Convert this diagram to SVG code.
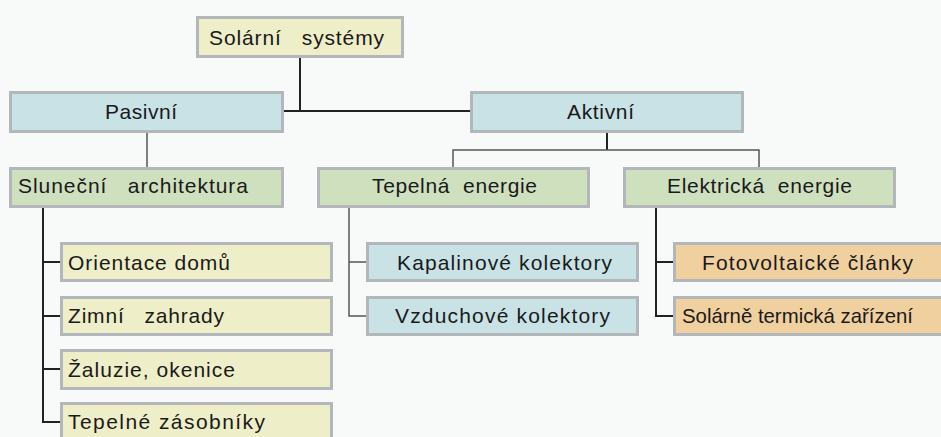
<svg xmlns="http://www.w3.org/2000/svg" width="941" height="437" viewBox="0 0 941 437">
<style>
.box{stroke:#b3b7bb;stroke-width:3}
.y{fill:#eeeec8}
.b{fill:#c9e2e6}
.g{fill:#cfe0bf}
.o{fill:#f1d09f}
text{font-family:"Liberation Sans",Arial,sans-serif;font-size:21px;fill:#1a1a1a}
.dark{stroke:#222;stroke-width:2;fill:none}
.thin{stroke:#555;stroke-width:1.5;fill:none}
</style>
<rect x="0" y="0" width="941" height="437" fill="#f8fafa"/>
<g id="connectors">
<path class="dark" d="M300 58V111M284 111H470"/>
<path class="thin" d="M147 133V167"/>
<path class="dark" d="M607 133V150"/>
<path class="thin" d="M453 167V150H759V167"/>
<path class="dark" d="M43 208V422H60M43 262H60M43 316H60M43 369H60"/>
<path class="thin" d="M349 208V316H366M349 262H366"/>
<path class="dark" d="M656 208V316H673M656 262H673"/>
</g>
<g id="solarni-systemy"><rect class="box y" x="197.5" y="17.5" width="205" height="39"/><text x="209" y="45" textLength="175" lengthAdjust="spacing" xml:space="preserve">Solární   systémy</text></g>
<g id="pasivni"><rect class="box b" x="10.5" y="92.5" width="272" height="39"/><text x="105" y="119" textLength="72" lengthAdjust="spacing">Pasivní</text></g>
<g id="aktivni"><rect class="box b" x="471.5" y="92.5" width="271" height="39"/><text x="567" y="119" textLength="67" lengthAdjust="spacing">Aktivní</text></g>
<g id="slunecni-architektura"><rect class="box g" x="10.5" y="168.5" width="272" height="38"/><text x="18" y="193" textLength="230" lengthAdjust="spacing" xml:space="preserve">Sluneční   architektura</text></g>
<g id="tepelna-energie"><rect class="box g" x="318.5" y="168.5" width="270" height="38"/><text x="372" y="193" textLength="165" lengthAdjust="spacing" xml:space="preserve">Tepelná  energie</text></g>
<g id="elektricka-energie"><rect class="box g" x="624.5" y="168.5" width="270" height="38"/><text x="667" y="193" textLength="185" lengthAdjust="spacing" xml:space="preserve">Elektrická  energie</text></g>
<g id="orientace-domu"><rect class="box y" x="61.5" y="243.5" width="270" height="37"/><text x="68" y="270" textLength="162" lengthAdjust="spacing">Orientace domů</text></g>
<g id="zimni-zahrady"><rect class="box y" x="61.5" y="297.5" width="270" height="37"/><text x="68" y="323" textLength="156" lengthAdjust="spacing" xml:space="preserve">Zimní   zahrady</text></g>
<g id="zaluzie-okenice"><rect class="box y" x="61.5" y="350.5" width="270" height="38"/><text x="68" y="377" textLength="167" lengthAdjust="spacing">Žaluzie, okenice</text></g>
<g id="tepelne-zasobniky"><rect class="box y" x="61.5" y="403.5" width="270" height="40"/><text x="68" y="429" textLength="197" lengthAdjust="spacing">Tepelné zásobníky</text></g>
<g id="kapalinove-kolektory"><rect class="box b" x="367.5" y="243.5" width="270" height="37"/><text x="397" y="270" textLength="215" lengthAdjust="spacing">Kapalinové kolektory</text></g>
<g id="vzduchove-kolektory"><rect class="box b" x="367.5" y="297.5" width="270" height="37"/><text x="395" y="323" textLength="215" lengthAdjust="spacing">Vzduchové kolektory</text></g>
<g id="fotovoltaicke-clanky"><rect class="box o" x="674.5" y="243.5" width="280" height="37"/><text x="702" y="270" textLength="211" lengthAdjust="spacing">Fotovoltaické články</text></g>
<g id="solarne-termicka-zarizeni"><rect class="box o" x="674.5" y="297.5" width="280" height="37"/><text x="682" y="323" textLength="231" lengthAdjust="spacingAndGlyphs">Solárně termická zařízení</text></g>
</svg>
